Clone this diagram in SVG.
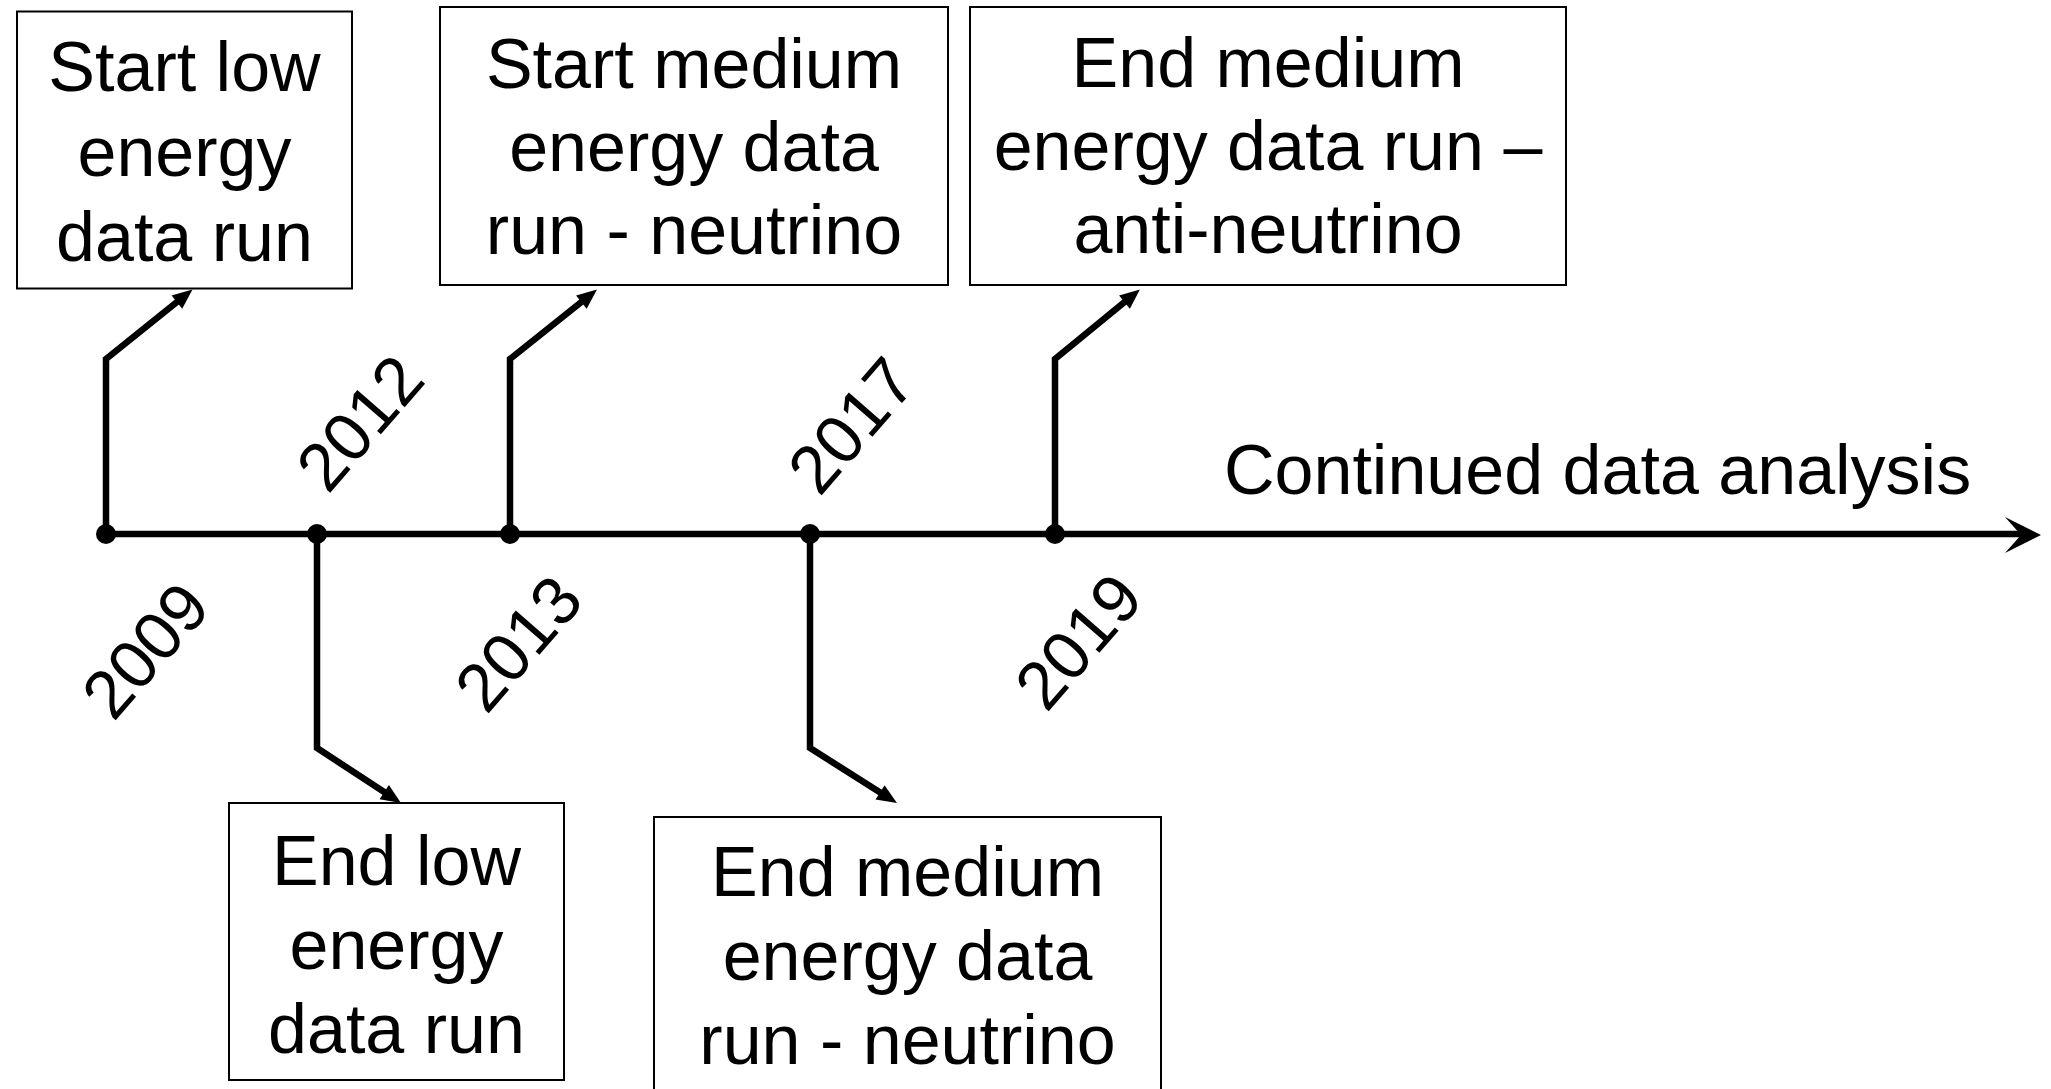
<svg xmlns="http://www.w3.org/2000/svg" width="2051" height="1089" viewBox="0 0 2051 1089">
<style>
.box{fill:#fff;stroke:#000;stroke-width:2}
.t{font-family:"Liberation Sans",Arial,sans-serif;font-size:70px;fill:#000;text-anchor:middle}
.yr{font-family:"Liberation Sans",Arial,sans-serif;font-size:68px;fill:#000;text-anchor:middle}
.ln{fill:none;stroke:#000;stroke-width:6.5;stroke-linejoin:miter}
.dot{fill:#000}
</style>
<defs>
<marker id="ah" viewBox="-12 -10 24 20" markerWidth="24" markerHeight="20" refX="0" refY="0" orient="auto" markerUnits="userSpaceOnUse" overflow="visible">
<path d="M10,0 L-10,-8.5 L-10,8.5 Z" fill="#000"/>
</marker>
</defs>
<rect width="2051" height="1089" fill="#fff"/>
<g id="connectors">
<line class="ln" x1="100" y1="534" x2="2022" y2="534"/>
<polygon points="2041,535 2005,517 2021,535 2005,553" fill="#000"/>
<polyline class="ln" points="106,534 106,359 184.7,295.8" marker-end="url(#ah)"/>
<polyline class="ln" points="510,534 510,359 589.2,295.8" marker-end="url(#ah)"/>
<polyline class="ln" points="1055,534 1055,359 1132.2,295.8" marker-end="url(#ah)"/>
<polyline class="ln" points="317,534 317,748 392.6,797.5" marker-end="url(#ah)"/>
<polyline class="ln" points="810,534 810,748 888.5,797.7" marker-end="url(#ah)"/>
<circle class="dot" cx="106" cy="534" r="10"/>
<circle class="dot" cx="317" cy="534" r="10"/>
<circle class="dot" cx="510" cy="534" r="10"/>
<circle class="dot" cx="810" cy="534" r="10"/>
<circle class="dot" cx="1055" cy="534" r="10"/>
</g>
<g id="years">
<text class="yr" transform="translate(145,650) rotate(-49)" y="24">2009</text>
<text class="yr" transform="translate(359.5,422.5) rotate(-49)" y="24">2012</text>
<text class="yr" transform="translate(518,643) rotate(-49)" y="24">2013</text>
<text class="yr" transform="translate(851,425) rotate(-49)" y="24">2017</text>
<text class="yr" transform="translate(1078,641) rotate(-49)" y="24">2019</text>
</g>
<g id="continued">
<text class="t" x="1224" y="494" style="text-anchor:start">Continued data analysis</text>
</g>
<g id="start-low">
<rect class="box" x="17" y="11.5" width="335" height="277"/>
<text class="t" x="184.5" y="91">Start low</text>
<text class="t" x="184.5" y="176">energy</text>
<text class="t" x="184.5" y="261">data run</text>
</g>
<g id="start-medium">
<rect class="box" x="440" y="7" width="508" height="278"/>
<text class="t" x="694" y="88">Start medium</text>
<text class="t" x="694" y="171">energy data</text>
<text class="t" x="694" y="254">run - neutrino</text>
</g>
<g id="end-medium-anti">
<rect class="box" x="970" y="7" width="596" height="278"/>
<text class="t" x="1268" y="87">End medium</text>
<text class="t" x="1268" y="170">energy data run –</text>
<text class="t" x="1268" y="253">anti-neutrino</text>
</g>
<g id="end-low">
<rect class="box" x="229" y="803" width="335" height="277"/>
<text class="t" x="396.5" y="885">End low</text>
<text class="t" x="396.5" y="969">energy</text>
<text class="t" x="396.5" y="1053">data run</text>
</g>
<g id="end-medium-neutrino">
<rect class="box" x="654" y="817" width="507" height="290"/>
<text class="t" x="907.5" y="895.5">End medium</text>
<text class="t" x="907.5" y="980">energy data</text>
<text class="t" x="907.5" y="1064">run - neutrino</text>
</g>
</svg>
